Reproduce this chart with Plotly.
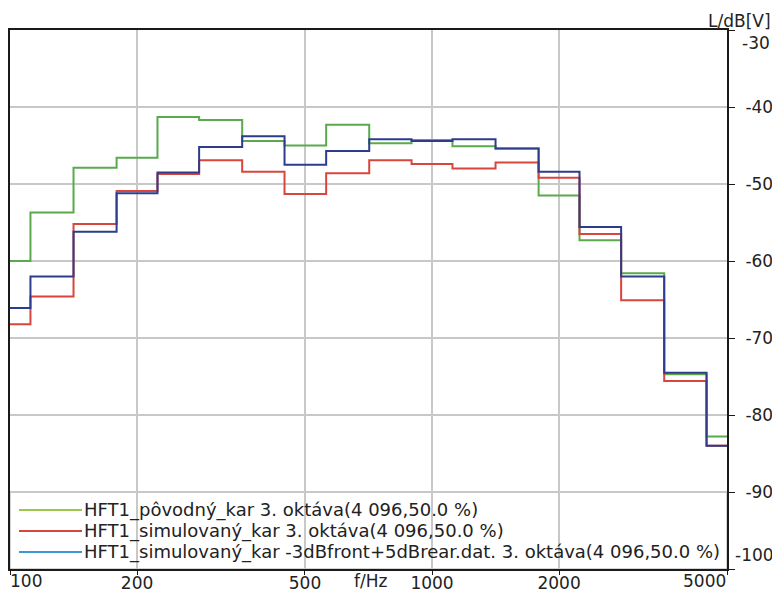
import plotly.graph_objects as go

# Third-octave band centre frequencies (Hz)
freqs = [100, 125, 160, 200, 250, 315, 400, 500, 630, 800, 1000, 1250, 1600, 2000, 2500, 3150, 4000, 5000]

# Levels L/dB[V]
povodny = [-60.0, -53.7, -47.9, -46.6, -41.3, -41.7, -44.4, -45.0, -42.3, -44.7,
           -44.3, -45.1, -45.4, -51.5, -57.3, -61.6, -74.7, -82.8]
simulovany = [-68.2, -64.6, -55.2, -50.9, -48.7, -46.9, -48.4, -51.3, -48.6, -46.9,
              -47.4, -48.0, -47.2, -49.2, -56.5, -65.1, -75.6, -84.0]
simulovany_mod = [-66.1, -62.0, -56.2, -51.2, -48.5, -45.2, -43.8, -47.5, -45.7, -44.2,
                  -44.4, -44.2, -45.4, -48.4, -55.6, -62.0, -74.5, -84.0]

series_names = [
    "HFT1_pôvodný_kar 3. oktáva(4 096,50.0 %)",
    "HFT1_simulovaný_kar 3. oktáva(4 096,50.0 %)",
    "HFT1_simulovaný_kar -3dBfront+5dBrear.dat. 3. oktáva(4 096,50.0 %)",
]
series_values = [povodny, simulovany, simulovany_mod]
line_colors = ["#5aaa4c", "#d8453c", "#2d3c8c"]
legend_colors = ["#9cc64c", "#d8453c", "#3a98d8"]

x_tickvals = [100, 200, 500, 1000, 2000, 5000]
x_ticktext = ["", "200", "500", "1000", "2000", ""]
y_tickvals = [-30, -40, -50, -60, -70, -80, -90, -100]
y_ticktext = ["", "-40", "-50", "-60", "-70", "-80", "-90", ""]

FONT = "DejaVu Sans"
FS = 17
LFS = 18
TXT = "#222222"

fig = go.Figure()
for name, vals, col in zip(series_names, series_values, line_colors):
    fig.add_trace(go.Scatter(x=freqs, y=vals, mode="lines", name=name,
                             line=dict(color=col, width=2, shape="hvh"),
                             showlegend=False))

OFF = 8  # page body margin
W, H = 772, 586
L, R, T, B = 2, 53, 22, 25
pw, ph = W - L - R, H - T - B

def px(x):
    return (x - OFF - L) / pw

def py(y):
    return (OFF + T + ph - y) / ph

shapes = [
    dict(type="rect", xref="paper", yref="y", x0=0, x1=1, y0=-100, y1=-90,
         fillcolor="white", line=dict(color="#a8a8a8", width=1), layer="between"),
]
annotations = []
rows_y = [510, 531, 552]
for name, col, ry in zip(series_names, legend_colors, rows_y):
    shapes.append(dict(type="line", xref="paper", yref="paper",
                       x0=px(19), x1=px(82), y0=py(ry), y1=py(ry),
                       line=dict(color=col, width=2), layer="above"))
    annotations.append(dict(text=name, xref="paper", yref="paper", x=px(82), y=py(ry),
                            xanchor="left", yanchor="middle", showarrow=False,
                            font=dict(family=FONT, size=LFS, color=TXT)))

annotations += [
    dict(text="100", xref="paper", yref="paper", x=px(8), y=py(581), xanchor="left",
         yanchor="middle", showarrow=False, font=dict(family=FONT, size=FS, color=TXT)),
    dict(text="5000", xref="paper", yref="paper", x=px(728), y=py(581), xanchor="right",
         yanchor="middle", showarrow=False, font=dict(family=FONT, size=FS, color=TXT)),
    dict(text="f/Hz", xref="paper", yref="paper", x=px(370), y=py(581), xanchor="center",
         yanchor="middle", showarrow=False, font=dict(family=FONT, size=FS, color=TXT)),
    dict(text="-30", xref="paper", yref="paper", x=px(740), y=py(43), xanchor="left",
         yanchor="middle", showarrow=False, font=dict(family=FONT, size=FS, color=TXT)),
    dict(text="-100", xref="paper", yref="paper", x=px(733), y=py(555), xanchor="left",
         yanchor="middle", showarrow=False, font=dict(family=FONT, size=FS, color=TXT)),
    dict(text="L/dB[V]", xref="paper", yref="paper", x=px(773), y=py(21), xanchor="right",
         yanchor="middle", showarrow=False, font=dict(family=FONT, size=FS, color=TXT)),
]

fig.update_layout(
    width=W, height=H,
    margin=dict(l=L, r=R, t=T, b=B, pad=0, autoexpand=False),
    paper_bgcolor="white", plot_bgcolor="white",
    font=dict(family=FONT, size=FS, color=TXT),
    showlegend=False,
    shapes=shapes, annotations=annotations,
    xaxis=dict(type="log", range=[2, 3.69897], tickvals=x_tickvals, ticktext=x_ticktext,
               showgrid=True, gridcolor="#c8c8c8", gridwidth=1.5,
               showline=True, linecolor="#1a1a1a", linewidth=2, mirror=True,
               ticks="outside", ticklen=4, tickcolor="#1a1a1a", tickwidth=1,
               ticklabelstandoff=-6,
               zeroline=False, fixedrange=True, automargin=False),
    yaxis=dict(range=[-100, -30], side="right", tickvals=y_tickvals, ticktext=y_ticktext,
               showgrid=True, gridcolor="#c8c8c8", gridwidth=1.5,
               showline=True, linecolor="#1a1a1a", linewidth=2, mirror=True,
               ticks="outside", ticklen=6, tickcolor="#1a1a1a", tickwidth=1,
               ticklabelstandoff=7, zeroline=False, fixedrange=True, automargin=False),
)

fig.write_html("out.html")
